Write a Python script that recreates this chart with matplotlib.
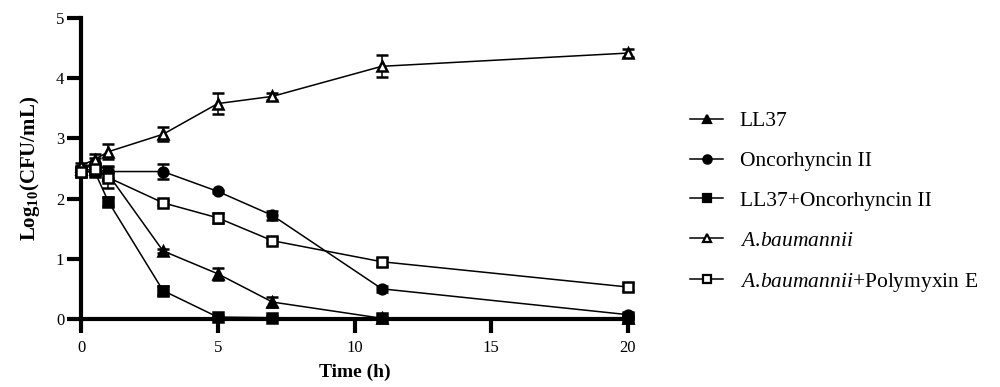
"""Time-kill curves of A. baumannii under peptide treatments."""

import matplotlib
matplotlib.use("Agg")
import matplotlib.pyplot as plt
import numpy as np

# data
time_h = [0, 0.5, 1, 3, 5, 7, 11, 20]

ll37 = [2.50, 2.55, 2.40, 1.13, 0.75, 0.28, 0.01, 0.02]
ll37_err = [0.05, 0.05, 0.08, 0.03, 0.10, 0.09, 0.02, 0.02]

onc = [2.50, 2.60, 2.45, 2.45, 2.12, 1.72, 0.50, 0.07]
onc_err = [0.05, 0.08, 0.10, 0.12, 0.03, 0.07, 0.05, 0.04]

combo = [2.45, 2.45, 1.95, 0.47, 0.03, 0.02, 0.01, 0.01]
combo_err = [0.05, 0.05, 0.07, 0.07, 0.02, 0.02, 0.01, 0.01]

ab = [2.55, 2.65, 2.78, 3.07, 3.58, 3.70, 4.20, 4.42]
ab_err = [0.05, 0.10, 0.12, 0.12, 0.17, 0.06, 0.18, 0.07]

ab_pmx = [2.45, 2.50, 2.35, 1.93, 1.68, 1.30, 0.95, 0.53]
ab_pmx_err = [0.08, 0.05, 0.18, 0.04, 0.08, 0.04, 0.07, 0.06]

labels = ["LL37", "Oncorhyncin II", "LL37+Oncorhyncin II",
          r"$\mathit{A.\!baumannii}$",
          r"$\mathit{A.\!baumannii}$+Polymyxin E"]

plt.rcParams["font.family"] = ["Liberation Serif", "DejaVu Serif"]
plt.rcParams["mathtext.fontset"] = "custom"
plt.rcParams["mathtext.rm"] = "Liberation Serif"
plt.rcParams["mathtext.it"] = "Liberation Serif:italic"
plt.rcParams["mathtext.bf"] = "Liberation Serif:bold"

fig = plt.figure(figsize=(10, 3.87), dpi=100)
ax = fig.add_axes([0.081, 0.176, 0.547, 0.777])

series = [
    (ll37, ll37_err, "^", "black"),
    (onc, onc_err, "o", "black"),
    (combo, combo_err, "s", "black"),
    (ab, ab_err, "^", "white"),
    (ab_pmx, ab_pmx_err, "s", "white"),
]

handles = []
for (vals, err, mk, face), lab in zip(series, labels):
    eb = ax.errorbar(time_h, vals, yerr=err, color="black", lw=1.1,
                     marker=mk, markersize=7, markerfacecolor=face,
                     markeredgecolor="black", markeredgewidth=1.8,
                     capsize=4, elinewidth=1.1, capthick=1.1,
                     clip_on=False, zorder=3)
    for art in eb.get_children():
        art.set_clip_on(False)
    h, = ax.plot([], [], color="black", lw=1.1, marker=mk, markersize=6,
                 markerfacecolor=face, markeredgecolor="black",
                 markeredgewidth=1.6, label=lab)
    handles.append(h)

ax.set_xlim(0, 20)
ax.set_ylim(0, 5)
ax.set_xticks([0, 5, 10, 15, 20])
ax.set_yticks([0, 1, 2, 3, 4, 5])

for side in ["top", "right"]:
    ax.spines[side].set_visible(False)
for side in ["left", "bottom"]:
    ax.spines[side].set_linewidth(3)
ax.tick_params(width=3, length=10, labelsize=12)
ax.tick_params(axis="x", pad=5)
ax.tick_params(axis="y", pad=2)

ax.set_xlabel("Time (h)", fontsize=14, fontweight="bold", labelpad=6)
ax.set_ylabel(r"Log$_{\mathregular{10}}$(CFU/mL)", fontsize=15,
              fontweight="bold", labelpad=10)

fig.legend(handles=handles, loc="upper left",
           bbox_to_anchor=(0.671, 0.763), frameon=False, fontsize=15.5,
           handlelength=1.5, handletextpad=0.8, labelspacing=0.92)

fig.savefig("out.png", dpi=100)
